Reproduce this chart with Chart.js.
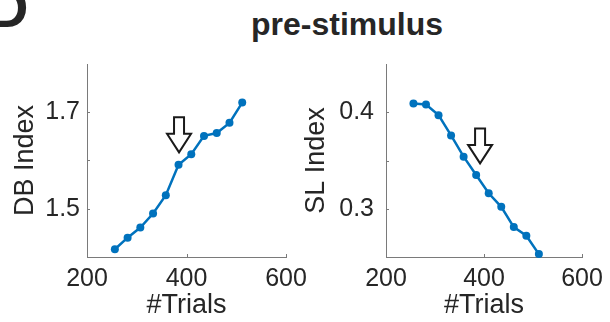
<!DOCTYPE html>
<html>
<head>
<meta charset="utf-8">
<script src="https://cdn.jsdelivr.net/npm/chart.js@4"></script>
<style>
  html, body { margin: 0; padding: 0; background: #fff; }
  body { width: 610px; height: 322px; position: relative; overflow: hidden;
         font-family: "Liberation Sans", Arial, sans-serif; color: #262626; }
  .panel { position: absolute; top: 0; height: 322px; }
  #left { left: 0; width: 330px; }
  #right { left: 300px; width: 310px; }
  #tag { position: absolute; left: -12px; top: -20px; font-size: 56px; font-weight: bold; line-height: 1; }
  #title { position: absolute; left: 247px; top: 8px; width: 200px; text-align: center;
           font-size: 32px; font-weight: bold; line-height: 1; white-space: nowrap; }
</style>
</head>
<body>
<div id="tag">D</div>
<div id="title">pre-stimulus</div>
<div class="panel" id="left"><canvas id="dbChart"></canvas></div>
<div class="panel" id="right"><canvas id="slChart"></canvas></div>
<script>
const trials = [256, 281.6, 307.2, 332.8, 358.4, 384, 409.6, 435.2, 460.8, 486.4, 512];
const dbIndex = [1.416, 1.440, 1.461, 1.490, 1.528, 1.591, 1.613, 1.651, 1.657, 1.678, 1.720];
const slIndex = [0.409, 0.408, 0.397, 0.376, 0.354, 0.335, 0.316, 0.302, 0.281, 0.272, 0.253];

const xTicks = [200, 400, 600];
const dbTicks = [1.5, 1.6, 1.7];
const dbTickLabels = [1.5, 1.7];
const slTicks = [0.3, 0.35, 0.4];
const slTickLabels = [0.3, 0.4];

// arrow tips, in data units
const dbArrow = [385, 1.617];
const slArrow = [392, 0.347];

const BLUE = '#0072BD';
const TEXT = '#262626';
const AXIS = '#7a7a7a';
const FONT = '"Liberation Sans", Arial, sans-serif';

// short tick marks pointing into the plot area
const innerTicks = {
  id: 'innerTicks',
  afterDraw(chart) {
    const {ctx, chartArea, scales: {x, y}} = chart;
    ctx.save();
    ctx.strokeStyle = AXIS;
    ctx.lineWidth = 1;
    ctx.beginPath();
    x.ticks.forEach(t => {
      const px = Math.round(x.getPixelForValue(t.value)) + 0.5;
      ctx.moveTo(px, chartArea.bottom);
      ctx.lineTo(px, chartArea.bottom - 3);
    });
    y.ticks.forEach(t => {
      const py = Math.round(y.getPixelForValue(t.value)) + 0.5;
      ctx.moveTo(chartArea.left, py);
      ctx.lineTo(chartArea.left + 3, py);
    });
    ctx.stroke();
    ctx.restore();
  }
};

// hollow down arrow marking a point on the curve
const arrowMark = {
  id: 'arrowMark',
  afterDraw(chart, args, opts) {
    if (!opts.at) return;
    const {ctx, scales: {x, y}} = chart;
    const tx = x.getPixelForValue(opts.at[0]);
    const ty = y.getPixelForValue(opts.at[1]);
    const len = 35, head = 18.5, hw = 12, sw = 5;
    ctx.save();
    ctx.beginPath();
    ctx.moveTo(tx - sw, ty - len);
    ctx.lineTo(tx + sw, ty - len);
    ctx.lineTo(tx + sw, ty - head);
    ctx.lineTo(tx + hw, ty - head);
    ctx.lineTo(tx, ty);
    ctx.lineTo(tx - hw, ty - head);
    ctx.lineTo(tx - sw, ty - head);
    ctx.closePath();
    ctx.fillStyle = '#fff';
    ctx.fill();
    ctx.lineWidth = 2;
    ctx.lineJoin = 'miter';
    ctx.strokeStyle = '#1a1a1a';
    ctx.stroke();
    ctx.restore();
  }
};

function makeChart(id, values, yMin, yMax, yTicks, yLabels, yTitle, opt) {
  return new Chart(id, {
    type: 'line',
    data: {
      datasets: [{
        data: trials.map((t, i) => ({x: t, y: values[i]})),
        borderColor: BLUE,
        backgroundColor: BLUE,
        borderWidth: 2.5,
        pointRadius: 4,
        pointBorderWidth: 0,
        fill: false,
        tension: 0,
        clip: false
      }]
    },
    options: {
      responsive: true,
      maintainAspectRatio: false,
      animation: false,
      events: [],
      layout: {padding: {top: 64, right: opt.padRight, left: 0, bottom: 0}},
      plugins: {
        legend: {display: false},
        tooltip: {enabled: false},
        arrowMark: {at: opt.arrow}
      },
      scales: {
        x: {
          type: 'linear',
          min: 200,
          max: 600,
          afterBuildTicks: s => { s.ticks = xTicks.map(v => ({value: v})); },
          ticks: {autoSkip: false, maxRotation: 0, padding: 7, color: TEXT,
                  font: {family: FONT, size: 25, lineHeight: 1.2}},
          grid: {display: false, drawTicks: false},
          border: {color: AXIS, width: 1},
          title: {display: true, text: '#Trials', color: TEXT, padding: {top: 0, bottom: 0},
                  font: {family: FONT, size: 27, lineHeight: 1.2}},
          afterFit: s => { s.height = 65; s.paddingLeft = 0; s.paddingRight = 0; }
        },
        y: {
          min: yMin,
          max: yMax,
          afterBuildTicks: s => { s.ticks = yTicks.map(v => ({value: v})); },
          ticks: {autoSkip: false, padding: opt.tickPad, color: TEXT,
                  font: {family: FONT, size: 25, lineHeight: 1.2},
                  callback: v => yLabels.includes(v) ? v.toFixed(1) : ''},
          grid: {display: false, drawTicks: false},
          border: {color: AXIS, width: 1},
          title: {display: true, text: yTitle, color: TEXT, padding: {top: opt.titlePad, bottom: 0},
                  font: {family: FONT, size: 27, lineHeight: 1.2}},
          afterFit: s => { s.width = opt.axisWidth; s.paddingTop = 0; s.paddingBottom = 0; }
        }
      }
    },
    plugins: [innerTicks, arrowMark]
  });
}

makeChart('dbChart', dbIndex, 1.4, 1.8, dbTicks, dbTickLabels, 'DB Index',
  {padRight: 44, axisWidth: 87, tickPad: 7, titlePad: 9, arrow: dbArrow});
makeChart('slChart', slIndex, 0.25, 0.45, slTicks, slTickLabels, 'SL Index',
  {padRight: 28, axisWidth: 86, tickPad: 12, titlePad: 0, arrow: slArrow});
</script>
</body>
</html>
